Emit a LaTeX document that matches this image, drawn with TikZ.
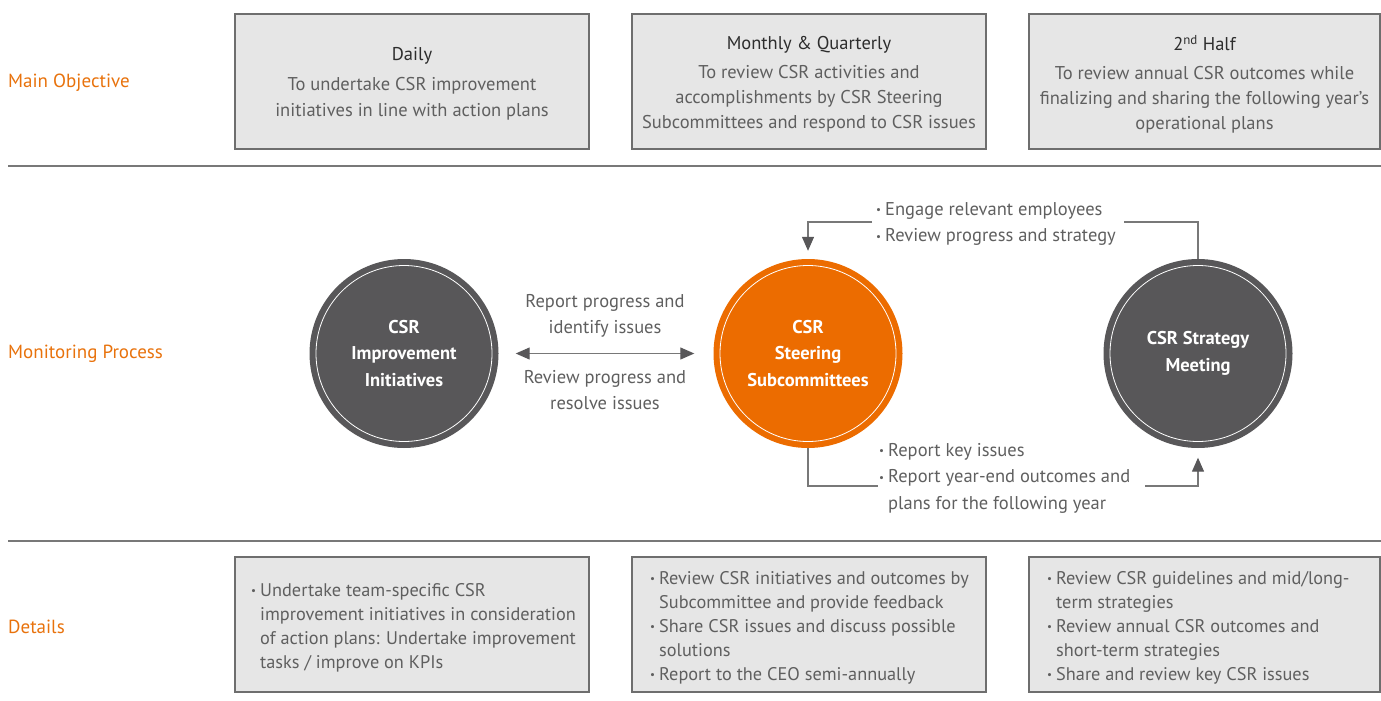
\documentclass[tikz,border=0pt]{standalone}
\usepackage{fontspec}
\setmainfont{PT Sans}
\usetikzlibrary{arrows.meta,calc}
\definecolor{lbl}{RGB}{232,114,12}
\definecolor{orng}{RGB}{236,108,0}
\definecolor{dgray}{RGB}{88,87,89}
\definecolor{boxfill}{RGB}{230,230,230}
\definecolor{boxline}{RGB}{110,110,110}
\definecolor{txt}{RGB}{95,95,95}
\definecolor{ttl}{RGB}{45,45,45}
\definecolor{lin}{RGB}{120,120,120}
\newcommand\bul{\makebox[9pt][l]{\raisebox{1.5pt}{\fontsize{11}{11}\selectfont\textbullet}}}
\newcommand\ind{\hspace*{9pt}}
\begin{document}
\begin{tikzpicture}[x=1pt,y=-1pt,
  rowlabel/.style={font=\fontsize{19}{24}\selectfont,text=lbl,anchor=west,inner sep=0pt},
  panel/.style={draw=boxline,fill=boxfill,line width=1.1pt,minimum width=354pt,minimum height=135pt,inner sep=0pt},
  paneltext/.style={font=\fontsize{18.5}{25}\selectfont,text=txt,align=center,inner sep=0pt},
  labeltext/.style={font=\fontsize{18.5}{26.5}\selectfont,text=txt,align=center,inner sep=0pt},
  detailtext/.style={font=\fontsize{18.3}{24}\selectfont,text=txt,align=left,inner sep=0pt,anchor=north west},
  bubble/.style={circle,minimum size=189pt,inner sep=0pt,text=white,align=center,font=\fontsize{18.5}{26.5}\selectfont\bfseries},
  ring/.style={draw=white,line width=0.8pt},
  conn/.style={draw=lin,line width=1.2pt},
  tip/.style={-{Triangle[length=14pt,width=12pt,color=dgray]}},
  sep/.style={draw=lin,line width=1.3pt},
  flowtext/.style={font=\fontsize{18.5}{26.5}\selectfont,text=txt,align=left,inner sep=0pt,anchor=north west}
]
\useasboundingbox (0,0) rectangle (1381,701);
% row labels
\node[rowlabel] (l1) at (8,83) {Main Objective};
\node[rowlabel] (l2) at (8,354) {Monitoring Process};
\node[rowlabel] (l3) at (8,627) {Details};
% separators
\coordinate (s1a) at (8,166); \coordinate (s1b) at (1381,166);
\coordinate (s2a) at (8,541); \coordinate (s2b) at (1381,541);
\draw[sep] (s1a) -- (s1b);
\draw[sep] (s2a) -- (s2b);
% top panels
\node[panel] (t1) at (412,81.5) {};
\node[panel] (t2) at (809,81.5) {};
\node[panel,minimum width=351pt] (t3) at (1204.5,81.5) {};
\node[paneltext,font=\fontsize{18.5}{26}\selectfont] (t1t) at (412,83.5) {{\color{ttl}Daily}\\[4pt]To undertake CSR improvement\\initiatives in line with action plans};
\node[paneltext] (t2t) at (809,84) {{\color{ttl}Monthly \& Quarterly}\\[4pt]To review CSR activities and\\accomplishments by CSR Steering\\Subcommittees and respond to CSR issues};
\node[paneltext] (t3t) at (1204.5,84) {{\color{ttl}2\textsuperscript{nd} Half}\\[4pt]To review annual CSR outcomes while\\finalizing and sharing the following year's\\operational plans};
% circles
\node[bubble,fill=dgray] (imp) at (404,353.5) {CSR\\Improvement\\Initiatives};
\node[bubble,fill=orng] (steer) at (808,353.5) {CSR\\Steering\\Subcommittees};
\node[bubble,fill=dgray] (strat) at (1198,353.5) {CSR Strategy\\Meeting};
\draw[ring] (imp.center) circle (88pt);
\draw[ring] (steer.center) circle (88pt);
\draw[ring] (strat.center) circle (88pt);
% double arrow
\draw[conn,{Triangle[length=14pt,width=12pt,color=dgray]}-{Triangle[length=14pt,width=12pt,color=dgray]}] ([xshift=17pt]imp.east) -- ([xshift=-19pt]steer.west);
\node[labeltext] (a1) at (605,316) {Report progress and\\identify issues};
\node[labeltext] (a2) at (605,390) {Review progress and\\resolve issues};
% top connector
\coordinate (tr) at (1124,222);
\coordinate (tl) at (872,222);
\draw[conn] (strat.north) |- (tr);
\draw[conn,tip] (tl) -| ($(steer.north)+(0,-8)$);
\node[flowtext] (ft) at (876,202) {\bul Engage relevant employees\\\bul Review progress and strategy};
% bottom connector
\coordinate (bl) at (878,486);
\coordinate (br) at (1145,486);
\draw[conn] (steer.south) |- (bl);
\draw[conn,tip] (br) -| ($(strat.south)+(0,9.5)$);
\node[flowtext] (fb) at (879,443) {\bul Report key issues\\\bul Report year-end outcomes and\\\ind plans for the following year};
% bottom panels
\node[panel] (d1) at (412,624.5) {};
\node[panel] (d2) at (809,624.5) {};
\node[panel,minimum width=351pt] (d3) at (1204.5,624.5) {};
\node[detailtext] (d1t) at (251,583) {\bul Undertake team-specific CSR\\\ind improvement initiatives in consideration\\\ind of action plans: Undertake improvement\\\ind tasks / improve on KPIs};
\node[detailtext] (d2t) at (650,571) {\bul Review CSR initiatives and outcomes by\\\ind Subcommittee and provide feedback\\\bul Share CSR issues and discuss possible\\\ind solutions\\\bul Report to the CEO semi-annually};
\node[detailtext] (d3t) at (1047,571) {\bul Review CSR guidelines and mid/long-\\\ind term strategies\\\bul Review annual CSR outcomes and\\\ind short-term strategies\\\bul Share and review key CSR issues};
\end{tikzpicture}
\end{document}
